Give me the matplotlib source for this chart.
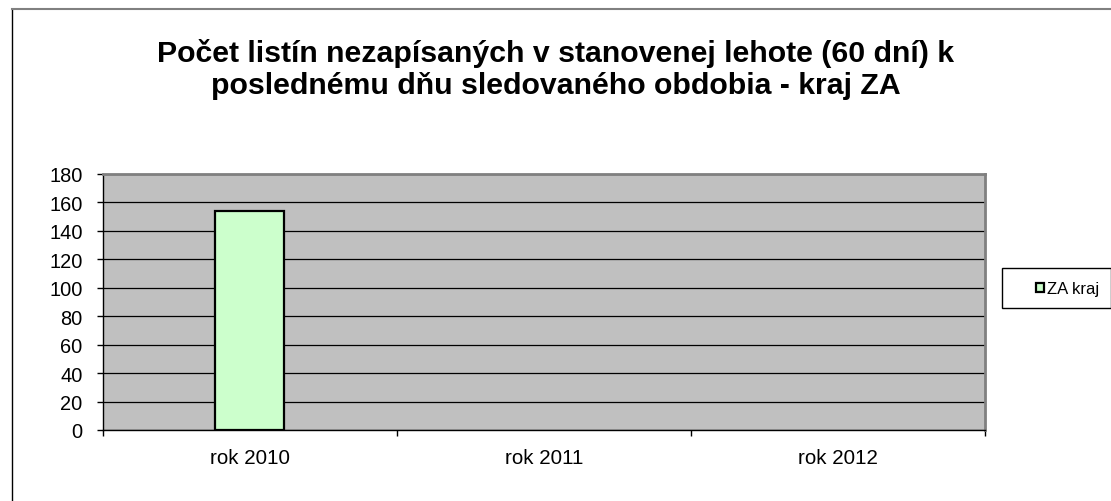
import matplotlib
matplotlib.use("Agg")
import matplotlib.pyplot as plt
from matplotlib.lines import Line2D
from matplotlib.patches import Rectangle

categories = ["rok 2010", "rok 2011", "rok 2012"]
values = [154, 0, 0]
series_name = "ZA kraj"
yticks = [0, 20, 40, 60, 80, 100, 120, 140, 160, 180]
title_lines = ["Počet listín nezapísaných v stanovenej lehote (60 dní) k",
               "poslednému dňu sledovaného obdobia - kraj ZA"]

plt.rcParams['font.family'] = ['Liberation Sans', 'DejaVu Sans']

W, H = 1111, 502
fig = plt.figure(figsize=(W / 100, H / 100), dpi=100)
fig.patch.set_facecolor('white')

def fx(px):
    return px / W

def fy(py):
    return 1 - py / H

# outer chart border
fig.add_artist(Line2D([fx(12), fx(12)], [fy(10), fy(501)], color='black', lw=1.0))
fig.add_artist(Line2D([fx(12), 1.0], [fy(10), fy(10)], color='#808080', lw=1.5))

ax = fig.add_axes([fx(102.7), fy(431), fx(985) - fx(102.7), fy(175) - fy(431)])
ax.set_facecolor('#C0C0C0')

x = list(range(len(categories)))
bars = ax.bar(x, values, width=0.236, color='#CCFFCC', edgecolor='black',
              linewidth=[1.6 if v > 0 else 0 for v in values],
              label=series_name, zorder=3)

ax.set_xlim(-0.5, len(categories) - 0.5)
ax.set_ylim(0, 180)
ax.set_yticks(yticks)
ax.set_yticklabels([str(t) for t in yticks])
ax.yaxis.grid(True, color='black', linewidth=0.9)
ax.set_axisbelow(True)

ax.set_xticks(x)
ax.set_xticklabels(categories)
ax.set_xticks([i - 0.5 for i in range(len(categories) + 1)], minor=True)
ax.tick_params(axis='x', which='major', length=0, pad=13, labelsize=14.8)
ax.tick_params(axis='x', which='minor', length=4, width=1, color='black', direction='out')
ax.tick_params(axis='y', length=4, width=1, color='black', pad=10.5, labelsize=14.4)

for s in ['top', 'right']:
    ax.spines[s].set_color('#808080')
    ax.spines[s].set_linewidth(2.0)
for s in ['left', 'bottom']:
    ax.spines[s].set_color('black')
    ax.spines[s].set_linewidth(1.0)

# title
fig.text(0.5, fy(61.7), title_lines[0], ha='center', va='baseline',
         fontsize=21.8, fontweight='bold')
fig.text(0.5, fy(94.3), title_lines[1], ha='center', va='baseline',
         fontsize=21.8, fontweight='bold')

# legend
fig.add_artist(Rectangle((fx(1002), fy(309)), fx(1110.5) - fx(1002), fy(269) - fy(309),
                         transform=fig.transFigure, facecolor='white',
                         edgecolor='black', linewidth=1.0))
leg = fig.legend(handles=[bars], labels=[series_name], loc='center left',
                 bbox_to_anchor=(fx(1036), fy(289.5)), frameon=False, fontsize=12,
                 handlelength=0.45, handleheight=0.45, handletextpad=0.2,
                 borderpad=0, borderaxespad=0)
for h in leg.legend_handles:
    h.set_linewidth(1.6)

fig.savefig('out.png', dpi=100)
